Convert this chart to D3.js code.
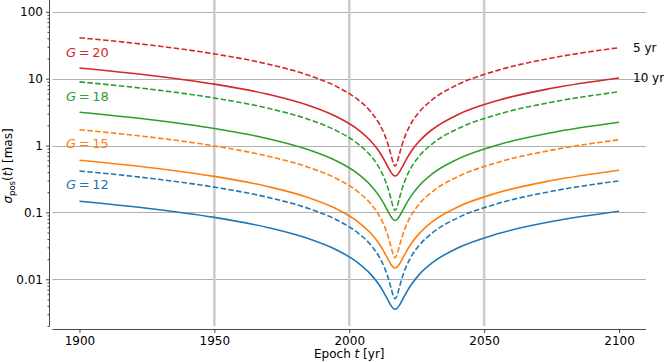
<!DOCTYPE html>
<html>
<head>
<meta charset="utf-8">
<script src="https://cdn.jsdelivr.net/npm/d3@7"></script>
<style>
  html, body { margin: 0; padding: 0; background: #fff; }
  svg { display: block; font-family: "DejaVu Sans", sans-serif; }
</style>
</head>
<body>
<svg id="chart" width="664" height="362"></svg>
<script>
// ---- data ----
const epochs = [1900, 1925, 1950, 1970, 1985, 1995, 2003, 2008, 2011, 2013, 2014.5, 2015.5, 2016.3, 2017,
                2017.7, 2018.5, 2019.5, 2021, 2023, 2026, 2031, 2040, 2055, 2075, 2100];

const g20_5yr  = [40.9, 32.2, 23.45, 16.45, 11.2, 7.72, 4.92, 3.19, 2.16, 1.48, 1.00, 0.718, 0.548, 0.49,
                  0.548, 0.718, 1.00, 1.48, 2.16, 3.19, 4.92, 8.07, 13.3, 20.3, 29.05];
const g20_10yr = [14.45, 11.36, 8.28, 5.815, 3.967, 2.74, 1.764, 1.165, 0.819, 0.605, 0.467, 0.396, 0.3605, 0.35,
                  0.3605, 0.396, 0.467, 0.605, 0.819, 1.165, 1.764, 2.862, 4.706, 7.17, 10.25];
const g18_5yr  = [8.96, 7.047, 5.132, 3.602, 2.453, 1.688, 1.078, 0.698, 0.472, 0.3245, 0.2194, 0.157, 0.1197, 0.107,
                  0.1197, 0.157, 0.2194, 0.3245, 0.472, 0.698, 1.078, 1.765, 2.913, 4.443, 6.358];
const g18_10yr = [3.136, 2.466, 1.798, 1.262, 0.861, 0.5945, 0.3828, 0.2529, 0.1779, 0.1314, 0.1013, 0.086, 0.0783, 0.076,
                  0.0783, 0.086, 0.1013, 0.1314, 0.1779, 0.2529, 0.3828, 0.6211, 1.0212, 1.556, 2.226];
const g15_5yr  = [1.72, 1.352, 0.985, 0.691, 0.4709, 0.3241, 0.2069, 0.134, 0.0907, 0.0624, 0.0423, 0.03045, 0.02339, 0.021,
                  0.02339, 0.03045, 0.0423, 0.0624, 0.0907, 0.134, 0.2069, 0.3388, 0.559, 0.853, 1.22];
const g15_10yr = [0.6026, 0.4738, 0.3454, 0.2425, 0.1655, 0.1143, 0.0736, 0.0486, 0.0342, 0.0253, 0.01954, 0.0166, 0.01513, 0.0147,
                  0.01513, 0.0166, 0.01954, 0.0253, 0.0342, 0.0486, 0.0736, 0.1194, 0.1963, 0.2991, 0.4277];
const g12_5yr  = [0.4165, 0.3275, 0.2385, 0.1674, 0.114, 0.0785, 0.0501, 0.03245, 0.02196, 0.01513, 0.01026, 0.00738, 0.00568, 0.0051,
                  0.00568, 0.00738, 0.01026, 0.01513, 0.02196, 0.03245, 0.0501, 0.082, 0.1354, 0.2065, 0.2955];
const g12_10yr = [0.1468, 0.1155, 0.0842, 0.0591, 0.0403, 0.02784, 0.01793, 0.01184, 0.00833, 0.00616, 0.00475, 0.00403, 0.00367, 0.00356,
                  0.00367, 0.00403, 0.00475, 0.00616, 0.00833, 0.01184, 0.01793, 0.02909, 0.04782, 0.0729, 0.1042];

const magnitudes = ["20", "18", "15", "12"];
const colors = ["#d62728", "#2ca02c", "#ff7f0e", "#1f77b4"];
const xTicks = [1900, 1950, 2000, 2050, 2100];
const xGridLines = [1950, 2000, 2050];
const yTicks = [0.01, 0.1, 1, 10, 100];
const yTickLabels = ["0.01", "0.1", "1", "10", "100"];
const durationLabels = ["5 yr", "10 yr"];

const seriesList = [
  {mag: magnitudes[0], color: colors[0], dashed: g20_5yr, solid: g20_10yr},
  {mag: magnitudes[1], color: colors[1], dashed: g18_5yr, solid: g18_10yr},
  {mag: magnitudes[2], color: colors[2], dashed: g15_5yr, solid: g15_10yr},
  {mag: magnitudes[3], color: colors[3], dashed: g12_5yr, solid: g12_10yr}
];

// ---- layout ----
const svg = d3.select("#chart");
const x = d3.scaleLinear().domain([1890, 2110]).range([52.5, 646]);
const y = d3.scaleLog().domain([0.002, 150]).range([326, 0]);
const leftSpineX = 49.5, bottomSpineY = 329.5;

// grid
const grid = svg.append("g");
grid.selectAll("line.h").data(yTicks).enter().append("line")
  .attr("x1", x.range()[0]).attr("x2", x.range()[1])
  .attr("y1", d => Math.round(y(d)) + 0.5).attr("y2", d => Math.round(y(d)) + 0.5)
  .attr("stroke", "#b0b0b0").attr("stroke-width", 1);
grid.selectAll("line.v").data(xGridLines).enter().append("line")
  .attr("x1", d => x(d)).attr("x2", d => x(d))
  .attr("y1", 0).attr("y2", 326)
  .attr("stroke", "#cccccc").attr("stroke-width", 2.5);

// axes
const yAxisG = svg.append("g").attr("transform", `translate(${leftSpineX},0)`);
yAxisG.call(d3.axisLeft(y).tickValues(yTicks).tickFormat((d, i) => yTickLabels[i]).tickSize(3.5).tickSizeOuter(0).tickPadding(3));
const minor = [];
for (let e = -3; e <= 2; e++) for (let m = 2; m <= 9; m++) {
  const v = m * Math.pow(10, e);
  if (v >= 0.002 && v <= 150) minor.push(v);
}
yAxisG.append("g").call(d3.axisLeft(y).tickValues(minor).tickFormat("").tickSize(2).tickSizeOuter(0))
  .select(".domain").remove();
yAxisG.select(".domain").attr("d", `M0,0V326`);

const xAxisG = svg.append("g").attr("transform", `translate(0,${bottomSpineY})`);
xAxisG.call(d3.axisBottom(x).tickValues(xTicks).tickFormat(d3.format("d")).tickSize(3.5).tickSizeOuter(0).tickPadding(3));
xAxisG.select(".domain").attr("d", `M${x.range()[0]},0H${x.range()[1]}`);

svg.selectAll(".tick text").attr("font-size", 12).attr("fill", "#000").attr("font-family", "DejaVu Sans, sans-serif");
svg.selectAll(".tick line, .domain").attr("stroke", "#333").attr("stroke-width", 0.9);

// curves
const line = d3.line().x((d, i) => x(epochs[i])).y(d => y(d)).curve(d3.curveMonotoneX);
const curves = svg.append("g");
seriesList.forEach(s => {
  curves.append("path").attr("d", line(s.dashed)).attr("fill", "none")
    .attr("stroke", s.color).attr("stroke-width", 1.6).attr("stroke-dasharray", "5.5,2.4");
  curves.append("path").attr("d", line(s.solid)).attr("fill", "none")
    .attr("stroke", s.color).attr("stroke-width", 1.6);
});

// magnitude labels (between dashed and solid at 1900)
const labelY = [52.5, 96.5, 143.5, 184.5];
seriesList.forEach((s, i) => {
  const t = svg.append("text").attr("x", 66).attr("y", labelY[i]).attr("dy", "0.35em")
    .attr("font-size", 13).attr("fill", s.color);
  t.append("tspan").attr("font-style", "italic").text("G");
  t.append("tspan").text("\u2009=\u2009" + s.mag);
});

// duration labels at right end of G=20 curves
svg.append("text").attr("x", 633).attr("y", y(g20_5yr[g20_5yr.length - 1]) ).attr("dy", "0.35em")
  .attr("font-size", 12).attr("fill", "#000").text(durationLabels[0]);
svg.append("text").attr("x", 633).attr("y", y(g20_10yr[g20_10yr.length - 1]) ).attr("dy", "0.35em")
  .attr("font-size", 12).attr("fill", "#000").text(durationLabels[1]);

// axis labels
svg.append("text").attr("x", x(2000)).attr("y", 358).attr("text-anchor", "middle")
  .attr("font-size", 12).attr("fill", "#000")
  .call(t => {
    t.append("tspan").text("Epoch ");
    t.append("tspan").attr("font-style", "italic").text("t");
    t.append("tspan").text(" [yr]");
  });

svg.append("text").attr("transform", "translate(12,166) rotate(-90)").attr("text-anchor", "middle")
  .attr("font-size", 12).attr("fill", "#000")
  .call(t => {
    t.append("tspan").attr("font-style", "italic").text("σ");
    t.append("tspan").attr("font-size", 8.5).attr("dy", 3).text("pos");
    t.append("tspan").attr("dy", -3).text("(");
    t.append("tspan").attr("font-style", "italic").text("t");
    t.append("tspan").text(") [mas]");
  });
</script>
</body>
</html>
